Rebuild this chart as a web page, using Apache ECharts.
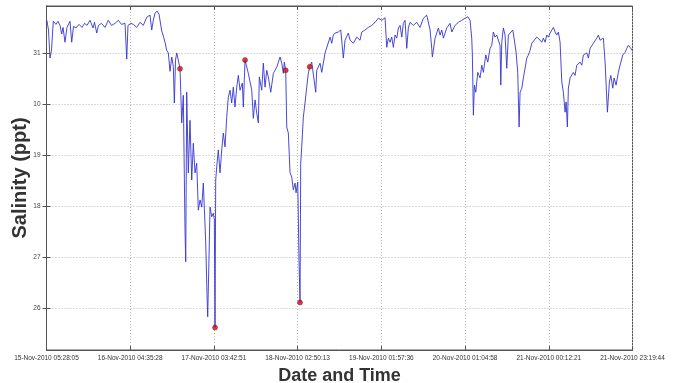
<!DOCTYPE html>
<html>
<head>
<meta charset="utf-8">
<script src="https://cdn.jsdelivr.net/npm/echarts@6/dist/echarts.min.js"></script>
<style>
  html, body { margin: 0; padding: 0; background: #fff; }
  #chart { width: 683px; height: 383px; }
</style>
</head>
<body>
<div id="chart"></div>
<script>
// x values are hours since 15-Nov-2010 05:28:05
const hours = [
  0.1, 0.55, 0.97, 1.38, 1.88, 2.62, 3.18, 3.73, 4.2, 4.56, 5.11, 5.66, 6.49, 6.96, 7.46, 8.15, 8.98, 9.81, 10.5, 11.19,
  12.02, 12.85, 13.26, 13.87, 14.37, 15.19, 16.16, 17.07, 17.96, 18.92, 19.84, 20.72, 21.69, 22.16, 22.51, 23.34, 23.98, 24.92, 25.83, 26.74,
  27.68, 28.59, 29.06, 29.5, 29.97, 30.53, 31.08, 31.83, 32.27, 32.74, 33.21, 33.65, 34.12, 34.59, 35.03, 35.31, 35.64, 35.97, 36.41, 36.88,
  37.35, 37.79, 38.26, 38.46, 38.73, 39.17, 39.64, 40.11, 40.55, 41.02, 41.49, 41.94, 42.41, 42.88, 43.32, 43.79, 43.98, 44.34, 44.53, 44.89,
  45.17, 45.64, 46.08, 46.36, 46.55, 46.74, 47.02, 47.46, 47.93, 48.4, 48.84, 49.31, 49.78, 50.22, 50.69, 51.16, 51.6, 52.07, 52.54, 52.99,
  53.46, 54.09, 54.37, 54.84, 55.75, 56.69, 57.13, 57.6, 58.07, 58.51, 58.79, 59.45, 59.89, 60.36, 60.83, 61.27, 61.94, 62.66, 63.59, 64.51,
  64.98, 65.42, 65.69, 66.08, 66.36, 66.8, 67.27, 67.74, 68.18, 68.65, 68.93, 69.4, 69.75, 70.03, 70.22, 70.5, 70.94, 71.41, 71.88, 72.32,
  72.71, 73.26, 73.71, 74.37, 74.64, 75.56, 76.03, 76.94, 77.41, 78.32, 78.79, 79.23, 79.7, 80.61, 81.28, 81.99, 82.46, 83.37, 83.85, 84.76,
  85.7, 86.61, 87.08, 87.99, 88.9, 89.84, 90.75, 91.66, 92.6, 93.51, 93.98, 94.43, 94.9, 95.36, 95.81, 96.28, 96.75, 97.19, 97.66, 98.13,
  98.57, 99.04, 99.51, 99.95, 100.42, 101.33, 102.27, 103.18, 104.09, 105.03, 105.95, 106.41, 106.58, 107.33, 108.24, 108.71, 109.18, 109.62, 110.56, 111.47,
  111.94, 112.85, 113.76, 114.7, 115.62, 116.36, 116.99, 117.46, 117.63, 117.91, 118.19, 118.57, 119.12, 119.75, 120.23, 120.67, 121.33, 121.88, 122.52, 122.99,
  123.43, 123.9, 124.37, 124.81, 125.28, 125.48, 125.75, 126.19, 126.66, 127.13, 127.58, 128.05, 128.79, 129.15, 129.71, 130.17, 130.53, 130.81, 131.28, 131.72,
  132.19, 132.66, 133.1, 133.57, 134.04, 134.48, 135.42, 135.86, 136.33, 136.8, 137.24, 137.72, 138.18, 138.63, 139.1, 140.01, 140.48, 140.95, 141.39, 141.86,
  142.33, 142.77, 143.24, 143.52, 143.87, 144.15, 144.62, 145.09, 145.53, 146.0, 146.47, 147.38, 147.85, 148.29, 149.23, 149.68, 150.15, 151.06, 152.0, 152.44,
  152.91, 153.82, 154.29, 154.93, 155.48, 155.87, 156.42, 156.78, 157.33, 157.96, 158.43, 159.18, 159.81, 160.29, 160.73, 161.2, 161.75
]
const salinity = [
  31.65, 31.46, 30.91, 31.06, 31.63, 31.57, 31.63, 31.55, 31.38, 31.51, 31.22, 31.51, 31.63, 31.22, 31.53, 31.5, 31.57, 31.51, 31.59, 31.55,
  31.65, 31.5, 31.61, 31.4, 31.55, 31.59, 31.51, 31.65, 31.55, 31.59, 31.65, 31.57, 31.59, 30.89, 31.55, 31.59, 31.57, 31.51, 31.61, 31.55,
  31.71, 31.75, 31.46, 31.65, 31.79, 31.83, 31.77, 31.44, 31.34, 31.22, 31.06, 31.01, 30.65, 30.93, 30.75, 30.03, 30.87, 31.01, 30.87, 30.7,
  29.64, 30.18, 27.54, 26.92, 30.24, 28.66, 29.69, 28.52, 29.24, 28.66, 28.85, 27.93, 28.13, 27.99, 28.46, 28.48, 27.29, 26.27, 25.84, 27.01,
  27.99, 27.8, 27.87, 27.74, 25.63, 28.52, 28.78, 29.11, 28.66, 29.11, 29.44, 29.17, 29.75, 30.14, 30.28, 30.03, 30.34, 29.95, 30.34, 30.57,
  30.28, 30.42, 29.95, 30.87, 30.61, 30.28, 29.73, 30.09, 29.83, 29.64, 30.54, 30.28, 30.81, 30.34, 30.67, 30.54, 30.24, 30.61, 30.73, 30.93,
  30.81, 30.61, 30.83, 30.67, 29.56, 29.44, 28.66, 28.58, 28.33, 28.46, 28.27, 28.48, 26.95, 26.12, 28.85, 29.17, 29.75, 30.03, 30.34, 30.61,
  30.74, 30.83, 30.81, 30.24, 30.67, 30.81, 30.63, 31.01, 31.03, 31.32, 31.2, 31.36, 31.4, 31.42, 31.46, 30.91, 31.26, 31.4, 31.26, 31.2,
  31.32, 31.26, 31.42, 31.46, 31.51, 31.55, 31.61, 31.69, 31.65, 31.7, 31.12, 31.3, 31.22, 31.32, 31.12, 31.36, 31.3, 31.5, 31.55, 31.32,
  31.59, 31.65, 31.1, 31.5, 31.61, 31.55, 31.61, 31.51, 31.69, 31.75, 31.46, 31.1, 30.93, 31.3, 31.5, 31.36, 31.46, 31.3, 31.5, 31.59,
  31.42, 31.55, 31.61, 31.65, 31.69, 31.72, 31.65, 31.3, 30.97, 29.79, 30.38, 30.24, 30.63, 30.52, 30.77, 30.63, 30.97, 30.83, 31.1, 31.16,
  31.42, 31.32, 31.36, 31.26, 31.16, 30.38, 31.22, 31.5, 31.36, 30.71, 31.36, 31.36, 31.46, 31.3, 31.02, 30.63, 29.56, 30.24, 30.32, 30.52,
  30.71, 30.91, 30.97, 31.06, 31.2, 31.22, 31.32, 31.3, 31.26, 31.22, 31.3, 31.22, 31.36, 31.32, 31.4, 31.51, 31.42, 31.36, 31.42, 31.22,
  30.44, 30.24, 29.85, 30.05, 29.56, 30.32, 30.52, 30.52, 30.63, 30.57, 30.77, 30.83, 30.77, 30.97, 31.01, 30.91, 31.1, 31.2, 31.3, 31.36,
  31.26, 31.3, 30.83, 29.85, 30.44, 30.57, 30.32, 30.52, 30.38, 30.63, 30.77, 30.97, 31.02, 31.1, 31.16, 31.12, 31.06
]

// red markers
const markHours = [36.88, 46.55, 54.84, 66.08, 70.03, 72.71]
const markSalinity = [30.7, 25.63, 30.87, 30.67, 26.12, 30.74]

const xTickLabels = [
  '15-Nov-2010 05:28:05', '16-Nov-2010 04:35:28', '17-Nov-2010 03:42:51', '18-Nov-2010 02:50:13',
  '19-Nov-2010 01:57:36', '20-Nov-2010 01:04:58', '21-Nov-2010 00:12:21', '21-Nov-2010 23:19:44'
]
const yTickValues = [26, 27, 28, 29, 30, 31]
const yTickLabels = ['26', '27', '18', '19', '10', '31']

const xStep = 23.1231
const labelFont = "'Liberation Sans Narrow', 'Liberation Sans', Arial, sans-serif"

const chart = echarts.init(document.getElementById('chart'))

const gridLine = { show: true, lineStyle: { color: '#b5b5b5', type: [1, 2], width: 1 } }

chart.setOption({
  animation: false,
  backgroundColor: '#fff',
  grid: {
    left: 46.5, right: 50.5, top: 6, bottom: 33,
    outerBoundsMode: 'none', containLabel: false,
    show: true, borderColor: '#555', borderWidth: 1
  },
  xAxis: [
    {
      type: 'value', min: 0, max: xStep * 7, interval: xStep,
      name: 'Date and Time', nameLocation: 'middle', nameGap: 16,
      nameTextStyle: { fontSize: 18, fontWeight: 'bold', color: '#333', fontFamily: labelFont },
      axisLine: { show: true, lineStyle: { color: '#555' } },
      axisTick: { show: true, inside: true, length: 4, lineStyle: { color: '#555' } },
      axisLabel: {
        fontSize: 6.5, color: '#333', margin: 5, fontFamily: labelFont,
        formatter: v => xTickLabels[Math.round(v / xStep)] || ''
      },
      splitLine: gridLine
    },
    {
      type: 'value', position: 'top', min: 0, max: xStep * 7, interval: xStep,
      axisLine: { show: true, lineStyle: { color: '#555' } },
      axisTick: { show: true, inside: true, length: 4, lineStyle: { color: '#555' } },
      axisLabel: { show: false }, splitLine: { show: false }
    }
  ],
  yAxis: [
    {
      type: 'value', min: 25.19, max: 31.93,
      name: 'Salinity (ppt)', nameLocation: 'middle', nameGap: 16, nameMoveOverlap: false,
      nameTextStyle: { fontSize: 20, fontWeight: 'bold', color: '#333', fontFamily: labelFont },
      axisLine: { show: true, lineStyle: { color: '#555' } },
      axisTick: { show: true, inside: true, length: 4, customValues: yTickValues, lineStyle: { color: '#555' } },
      axisLabel: {
        fontSize: 6.5, color: '#444', margin: 6, fontFamily: labelFont, customValues: yTickValues,
        formatter: v => yTickLabels[yTickValues.indexOf(Math.round(v))]
      },
      splitLine: gridLine
    },
    {
      type: 'value', position: 'right', min: 25.19, max: 31.93,
      axisLine: { show: true, lineStyle: { color: '#555' } },
      axisTick: { show: true, inside: true, length: 4, customValues: yTickValues, lineStyle: { color: '#555' } },
      axisLabel: { show: false }, splitLine: { show: false }
    }
  ],
  series: [
    {
      type: 'line',
      data: hours.map((h, i) => [h, salinity[i]]),
      showSymbol: false,
      lineStyle: { color: '#3434d0', width: 0.9 },
      z: 2
    },
    {
      type: 'scatter',
      data: markHours.map((h, i) => [h, markSalinity[i]]),
      symbolSize: 5,
      itemStyle: { color: '#d01010', borderColor: '#700', borderWidth: 0.5 },
      z: 3
    }
  ]
})
</script>
</body>
</html>
